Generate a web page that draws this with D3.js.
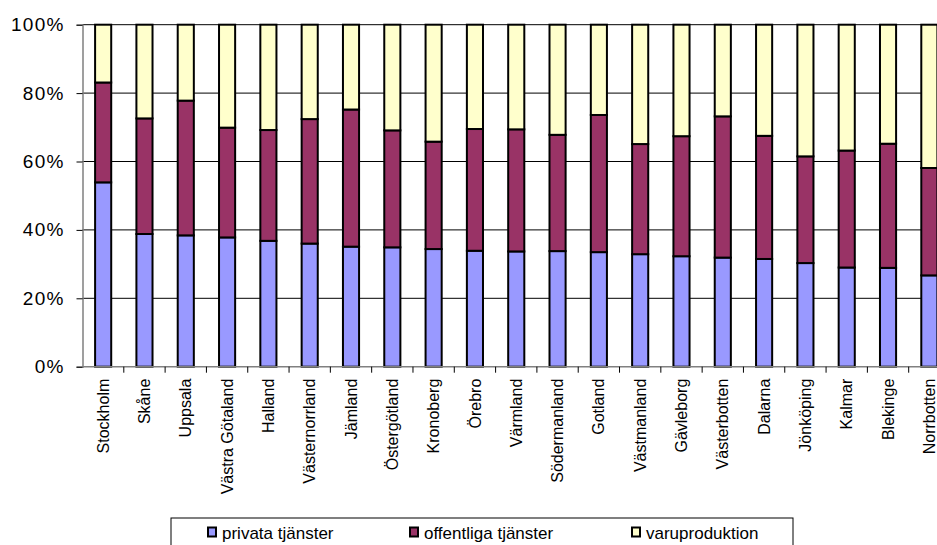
<!DOCTYPE html>
<html>
<head>
<meta charset="utf-8">
<script src="https://cdn.jsdelivr.net/npm/d3@7"></script>
<style>
  body { margin: 0; background: #fff; }
  svg { display: block; font-family: "Liberation Sans", Arial, sans-serif; }
</style>
</head>
<body>
<svg id="chart"></svg>
<script>
// regions, sorted by share of private services
const regions = ["Stockholm", "Skåne", "Uppsala", "Västra Götaland", "Halland", "Västernorrland",
  "Jämland", "Östergötland", "Kronoberg", "Örebro", "Värmland", "Södermanland", "Gotland",
  "Västmanland", "Gävleborg", "Västerbotten", "Dalarna", "Jönköping", "Kalmar", "Blekinge", "Norrbotten"];

// shares in percent
const privata =     [53.9, 38.8, 38.4, 37.8, 36.8, 36.0, 35.1, 34.9, 34.4, 33.9, 33.7, 33.8, 33.5, 32.9, 32.3, 31.9, 31.5, 30.3, 29.0, 28.9, 26.7];
const offentliga =  [29.2, 33.8, 39.4, 32.1, 32.4, 36.4, 40.1, 34.2, 31.4, 35.6, 35.7, 34.0, 40.1, 32.2, 35.1, 41.3, 36.0, 31.2, 34.2, 36.3, 31.4];
const varuprod =    [16.9, 27.4, 22.2, 30.1, 30.8, 27.6, 24.8, 30.9, 34.2, 30.5, 30.6, 32.2, 26.4, 34.9, 32.6, 26.8, 32.5, 38.5, 36.8, 34.8, 41.9];

const seriesNames = ["privata tjänster", "offentliga tjänster", "varuproduktion"];
const yTicks = [0, 0.2, 0.4, 0.6, 0.8, 1];

const colors = ["#9999ff", "#993366", "#ffffcc"];

const w = 937, h = 545;
const plotLeft = 82.5, plotRight = 950, plotTop = 24.7, plotBottom = 366.7;

const svg = d3.select("#chart").attr("width", w).attr("height", h);

const keys = ["p", "o", "v"];
const table = regions.map((r, i) => ({ region: r, p: privata[i], o: offentliga[i], v: varuprod[i] }));
const stacked = d3.stack().keys(keys).offset(d3.stackOffsetExpand)(table);

const x = d3.scaleBand().domain(regions).range([plotLeft, plotRight]).paddingInner(0.61).paddingOuter(0.305);
const y = d3.scaleLinear().domain([0, 1]).range([plotBottom, plotTop]);

// gridlines
svg.append("g")
  .selectAll("line")
  .data(yTicks.slice(1))
  .enter().append("line")
  .attr("x1", plotLeft).attr("x2", plotRight)
  .attr("y1", d => y(d)).attr("y2", d => y(d))
  .attr("stroke", "#000").attr("stroke-width", 1);

// bars
svg.append("g")
  .selectAll("g")
  .data(stacked)
  .enter().append("g")
  .attr("fill", (d, i) => colors[i])
  .selectAll("rect")
  .data(d => d)
  .enter().append("rect")
  .attr("x", d => x(d.data.region))
  .attr("width", x.bandwidth())
  .attr("y", d => y(d[1]))
  .attr("height", d => y(d[0]) - y(d[1]))
  .attr("stroke", "#000")
  .attr("stroke-width", 2);

// y axis
const yAxis = d3.axisLeft(y).tickValues(yTicks).tickFormat(d3.format(".0%")).tickSize(6).tickPadding(12);
const gy = svg.append("g").attr("transform", "translate(" + plotLeft + ",0)").call(yAxis);
gy.select(".domain").attr("stroke", "#808080").attr("stroke-width", 1.5);
gy.selectAll(".tick line").attr("stroke", "#000");
gy.selectAll(".tick text").attr("font-size", 19).attr("fill", "#000").attr("letter-spacing", 1.2)
  .attr("font-family", "Liberation Sans, Arial, sans-serif");

// x axis
const step = x.step();
const gx = svg.append("g").attr("transform", "translate(0," + plotBottom + ")");
gx.append("line").attr("x1", plotLeft).attr("x2", plotRight).attr("stroke", "#808080").attr("stroke-width", 1.5);
gx.selectAll(".bt")
  .data(regions)
  .enter().append("line")
  .attr("class", "bt")
  .attr("x1", d => x(d) - (step - x.bandwidth()) / 2 + step)
  .attr("x2", d => x(d) - (step - x.bandwidth()) / 2 + step)
  .attr("y1", 0).attr("y2", 6)
  .attr("stroke", "#000");

gx.selectAll(".lbl")
  .data(regions)
  .enter().append("text")
  .attr("class", "lbl")
  .attr("transform", d => "translate(" + (x(d) + x.bandwidth() / 2) + ",12) rotate(-90)")
  .attr("text-anchor", "end")
  .attr("dy", "0.35em")
  .attr("font-size", 16)
  .attr("fill", "#000")
  .text(d => d);

// legend
const legend = svg.append("g");
legend.append("rect")
  .attr("x", 171).attr("y", 518).attr("width", 622).attr("height", 40)
  .attr("fill", "#fff").attr("stroke", "#000").attr("stroke-width", 1);
const legX = [208, 410, 632];
const item = legend.selectAll(".li")
  .data(seriesNames)
  .enter().append("g")
  .attr("transform", (d, i) => "translate(" + legX[i] + ",532)");
item.append("rect")
  .attr("x", 0).attr("y", -4.5).attr("width", 8).attr("height", 9)
  .attr("fill", (d, i) => colors[i]).attr("stroke", "#000").attr("stroke-width", 2);
item.append("text")
  .attr("x", 14).attr("y", 7)
  .attr("font-size", 17)
  .attr("fill", "#000")
  .text(d => d);
</script>
</body>
</html>
